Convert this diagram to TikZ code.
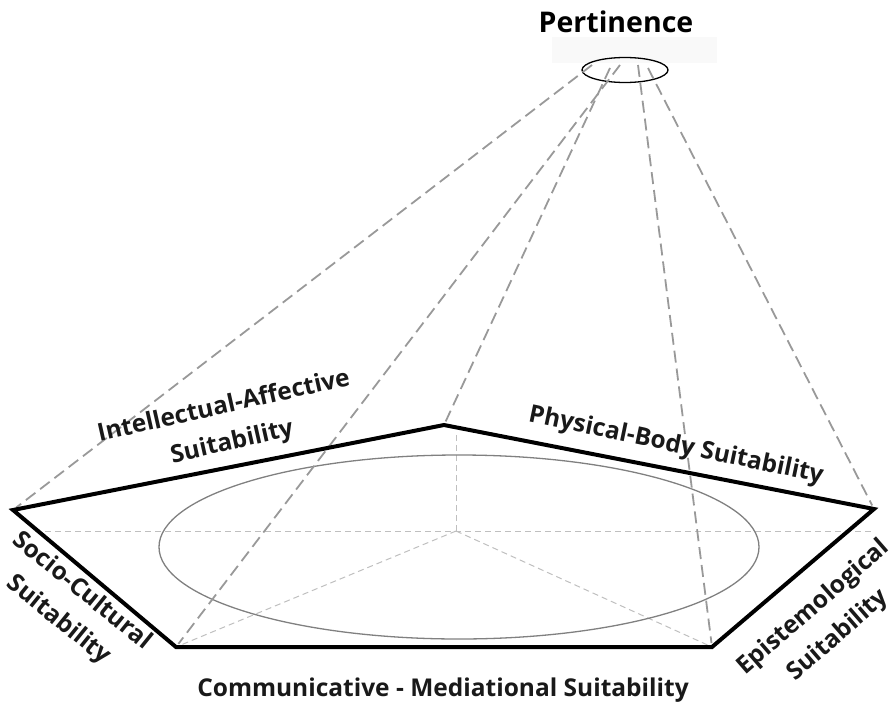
\documentclass[tikz,border=0pt]{standalone}
\usepackage{fontspec}
\setmainfont{Open Sans}
\usetikzlibrary{shapes.geometric}
\begin{document}
\begin{tikzpicture}[x=1pt,y=-1pt,line width=1pt,
	schild/.style={font=\fontsize{24.5}{37}\selectfont\bfseries,align=center,text=black!90,inner sep=0pt},
	strahl/.style={draw=strahlgrau,line width=1.8pt,dash pattern=on 12pt off 6pt},
	hilfslinie/.style={draw=hilfsgrau,line width=1pt,dash pattern=on 6pt off 4pt}]
		\useasboundingbox (0,0) rectangle (893,706);
		\definecolor{strahlgrau}{rgb}{0.6,0.6,0.6}
		\definecolor{hilfsgrau}{rgb}{0.75,0.75,0.75}
		\definecolor{kastengrau}{rgb}{0.975,0.975,0.975}
		
		%Pertinenz oben
		\fill [kastengrau] (552,37) rectangle (717,63);
		\node[font=\fontsize{28.5}{32}\selectfont\bfseries,inner sep=0pt] (pert) at (616,22) {Pertinence};
		\node[draw,ellipse,line width=1.3pt,minimum width=86pt,minimum height=25pt,inner sep=0pt] (pe) at (625,70) {};
		
		%Eckpunkte
		\coordinate (L) at (13,510);
		\coordinate (T) at (444,425);
		\coordinate (R) at (874,509);
		\coordinate (BR) at (712,647);
		\coordinate (BL) at (176,647);
		\coordinate (M) at (456,531);
		\coordinate (Mo) at (456,435);
		\coordinate (Hl) at (35,531);
		\coordinate (Hr) at (872,531);
		
		%Hilfslinien
		\draw [hilfslinie] (Hl) -- (Hr);
		\draw [hilfslinie] (Mo) -- (M);
		\foreach \e in {BL,BR}
			\draw [hilfslinie] (M) -- (\e);
		\draw [line width=1.3pt,gray] (459,547) ellipse [x radius=300pt, y radius=92pt];
		
		%Strahlen
		\coordinate (s1) at (592,65);
		\coordinate (s2) at (610,68);
		\coordinate (s3) at (620,65);
		\coordinate (s4) at (638,65);
		\coordinate (s5) at (648,68);
		\foreach \s/\e in {s1/L,s2/T,s3/BL,s4/BR,s5/R}
			\draw [strahl,shorten >=4pt] (\s) -- (\e);
		
		%Fuenfeck
		\draw [line width=4pt,line join=miter] (L) -- (T) -- (R) -- (BR) -- (BL) -- cycle;
		
		%Beschriftung
		\node[schild,rotate=12.7] (ia) at (228,425) {Intellectual-Affective\\Suitability};
		\node[schild,rotate=-11.8] (pb) at (676,446) {Physical-Body Suitability};
		\node[schild,rotate=-39] (sc) at (70,606) {Socio-Cultural\\Suitability};
		\node[schild,rotate=41] (ep) at (826,622) {Epistemological\\Suitability};
		\node[schild] (cm) at (443,690) {Communicative - Mediational Suitability};
	\end{tikzpicture}
\end{document}
